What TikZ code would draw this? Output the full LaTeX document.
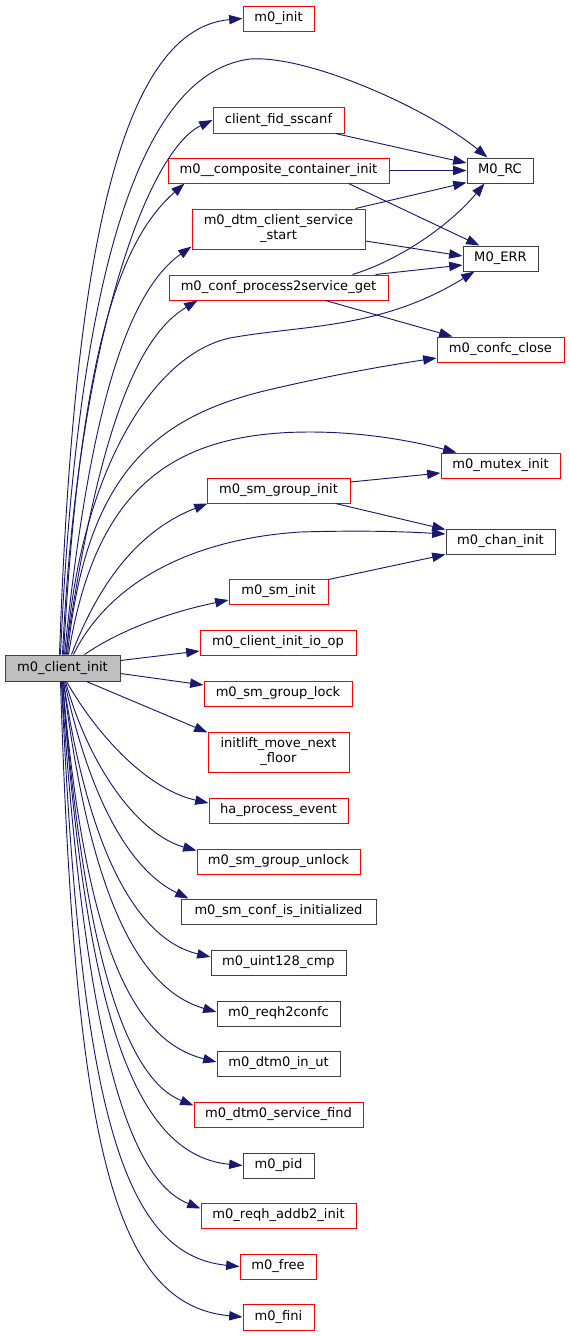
\documentclass[tikz,border=0pt]{standalone}
\usepackage{fontspec}
\setmainfont{DejaVu Sans}
\usetikzlibrary{arrows.meta,calc}
\definecolor{edgec}{HTML}{191970}
\definecolor{rootfill}{HTML}{BFBFBF}
\definecolor{greyb}{HTML}{404040}
\begin{document}
\begin{tikzpicture}[x=0.75pt,y=-0.75pt,
  box/.style={rectangle, inner sep=0pt, line width=0.75pt, font=\fontsize{9.8pt}{11.25pt}\selectfont, align=center, fill=white},
  rbox/.style={box, draw=red},
  kbox/.style={box, draw=greyb},
  wh/.style 2 args={minimum width=#1*0.75pt, minimum height=#2*0.75pt},
  e/.style={draw=edgec, line width=0.7pt, -{Triangle[length=10pt,width=7pt]}, fill=none}
]
\useasboundingbox (0,0) rectangle (569,1336);
% nodes
\node[kbox, fill=rootfill, wh={115}{26}] (ci) at (62.5,668) {m0\_client\_init};
\node[rbox, wh={71}{25}] (m0init) at (278.5,18.5) {m0\_init};
\node[rbox, wh={131}{26}] (fid) at (278.5,120) {client\_fid\_sscanf};
\node[rbox, wh={221}{25}] (comp) at (278.5,170.5) {m0\_\_composite\_container\_init};
\node[kbox, wh={66}{25}] (rc) at (500,170.5) {M0\_RC};
\node[rbox, wh={173}{40}] (dtm) at (278.5,229) {m0\_dtm\_client\_service\\\_start};
\node[kbox, wh={75}{25}] (err) at (500.5,258.5) {M0\_ERR};
\node[rbox, wh={219}{25}] (conf) at (278.5,287.5) {m0\_conf\_process2service\_get};
\node[rbox, wh={127}{25}] (close) at (500.5,349.5) {m0\_confc\_close};
\node[rbox, wh={119}{25}] (mutex) at (500.5,465.5) {m0\_mutex\_init};
\node[rbox, wh={143}{25}] (sgi) at (278.5,490.5) {m0\_sm\_group\_init};
\node[kbox, wh={109}{25}] (chan) at (500.5,541.5) {m0\_chan\_init};
\node[rbox, wh={99}{25}] (sminit) at (278.5,591.5) {m0\_sm\_init};
\node[rbox, wh={156}{25}] (io) at (278,642.5) {m0\_client\_init\_io\_op};
\node[rbox, wh={148}{25}] (lock) at (278,693.5) {m0\_sm\_group\_lock};
\node[rbox, wh={141}{40}] (lift) at (278.5,752) {initlift\_move\_next\\\_floor};
\node[rbox, wh={139}{25}] (ha) at (278.5,810.5) {ha\_process\_event};
\node[rbox, wh={163}{25}] (unlock) at (278.5,861.5) {m0\_sm\_group\_unlock};
\node[kbox, wh={195}{25}] (confinit) at (278.5,911.5) {m0\_sm\_conf\_is\_initialized};
\node[kbox, wh={135}{25}] (u128) at (278.5,962.5) {m0\_uint128\_cmp};
\node[kbox, wh={123}{25}] (r2c) at (278.5,1013.5) {m0\_reqh2confc};
\node[kbox, wh={123}{25}] (inut) at (278.5,1063.5) {m0\_dtm0\_in\_ut};
\node[rbox, wh={169}{25}] (find) at (278.5,1114.5) {m0\_dtm0\_service\_find};
\node[kbox, wh={71}{25}] (pid) at (278.5,1165.5) {m0\_pid};
\node[rbox, wh={155}{25}] (addb2) at (278.5,1215.5) {m0\_reqh\_addb2\_init};
\node[rbox, wh={76}{25}] (free) at (278,1266.5) {m0\_free};
\node[rbox, wh={71}{26}] (fini) at (278.5,1317) {m0\_fini};
% edges from m0_client_init (upwards)
\draw[e] ($(ci.north west)+(55,0)$) .. controls (72,300) and (110,30) .. (m0init.west);
\draw[e] ($(ci.north west)+(56,0)$) .. controls (75,330) and (125,75) .. (250,59) .. controls (310,55) and (430,110) .. ($(rc.north west)+(21,0)$);
\draw[e] ($(ci.north west)+(58,0)$) .. controls (78,330) and (150,150) .. (fid.west);
\draw[e] ($(ci.north west)+(59,0)$) .. controls (80,350) and (120,240) .. ($(comp.south west)+(17,0)$);
\draw[e] ($(ci.north west)+(60,0)$) .. controls (90,400) and (130,290) .. ($(dtm.south west)+(0,-3)$);
\draw[e] ($(ci.north west)+(61,0)$) .. controls (100,420) and (140,335) .. ($(conf.south west)+(29,0)$);
\draw[e] ($(ci.north west)+(62,0)$) .. controls (78,480) and (150,355) .. (230,338) .. controls (300,325) and (380,330) .. ($(err.south west)+(12,0)$);
\draw[e] ($(ci.north west)+(63,0)$) .. controls (85,480) and (150,420) .. (260,392) .. controls (330,375) and (390,365) .. ($(close.west)+(0,8.5)$);
\draw[e] ($(ci.north west)+(64,0)$) .. controls (95,490) and (170,432) .. (310,432) .. controls (370,432) and (420,443) .. ($(mutex.north west)+(16,0)$);
\draw[e] ($(ci.north west)+(67,0)$) .. controls (100,580) and (140,530) .. ($(sgi.south west)+(1,0)$);
\draw[e] ($(ci.north west)+(69,0)$) .. controls (105,590) and (180,540) .. (300,532) .. controls (370,530) and (410,532) .. ($(chan.west)+(0,-7.5)$);
\draw[e] ($(ci.north west)+(80,0)$) .. controls (120,630) and (170,612) .. ($(sminit.west)+(0,8.5)$);
\draw[e] ($(ci.north east)+(0,6)$) -- ($(io.west)+(0,8.5)$);
\draw[e] ($(ci.north east)+(0,19)$) -- ($(lock.west)+(0,-8.5)$);
% edges from m0_client_init (downwards)
\draw[e] ($(ci.south west)+(82,0)$) -- ($(lift.north west)+(0,1)$);
\draw[e] ($(ci.south west)+(62,0)$) .. controls (100,740) and (150,790) .. ($(ha.west)+(0,-7.5)$);
\draw[e] ($(ci.south west)+(61,0)$) .. controls (90,770) and (140,835) .. ($(unlock.north west)+(0,2)$);
\draw[e] ($(ci.south west)+(60,0)$) .. controls (90,800) and (130,870) .. ($(confinit.north west)+(8,0)$);
\draw[e] ($(ci.south west)+(59,0)$) .. controls (90,860) and (140,940) .. ($(u128.west)+(0,-5.5)$);
\draw[e] ($(ci.south west)+(59,0)$) .. controls (90,900) and (140,990) .. ($(r2c.west)+(0,-1.5)$);
\draw[e] ($(ci.south west)+(58,0)$) .. controls (85,940) and (130,1040) .. ($(inut.west)+(0,-1.5)$);
\draw[e] ($(ci.south west)+(58,0)$) .. controls (85,970) and (130,1080) .. ($(find.north west)+(0,4)$);
\draw[e] ($(ci.south west)+(58,0)$) .. controls (85,1000) and (130,1155) .. (pid.west);
\draw[e] ($(ci.south west)+(57,0)$) .. controls (85,1050) and (130,1180) .. ($(addb2.north west)+(0,6)$);
\draw[e] ($(ci.south west)+(57,0)$) .. controls (80,1100) and (120,1255) .. (free.west);
\draw[e] ($(ci.south west)+(56,0)$) .. controls (75,1150) and (115,1305) .. (fini.west);
% cross edges
\draw[e] ($(fid.south east)+(-9,0)$) -- ($(rc.west)+(0,-7.5)$);
\draw[e] (comp.east) -- (rc.west);
\draw[e] ($(comp.south east)+(-41,0)$) -- ($(err.north west)+(17,0)$);
\draw[e] ($(dtm.north east)+(-10,0)$) -- ($(rc.south west)+(0,-1)$);
\draw[e] ($(dtm.east)+(0,12)$) -- ($(err.west)+(0,-2.5)$);
\draw[e] ($(conf.north east)+(-36,0)$) .. controls (400,260) and (450,225) .. ($(rc.south west)+(18,0)$);
\draw[e] ($(conf.north east)+(-13,0)$) -- ($(err.west)+(0,6.5)$);
\draw[e] ($(conf.south east)+(-63,0)$) -- ($(close.north west)+(16,0)$);
\draw[e] ($(sgi.east)+(0,-8.5)$) -- ($(mutex.west)+(0,7.5)$);
\draw[e] ($(sgi.south east)+(-15,0)$) -- ($(chan.north west)+(0,1)$);
\draw[e] ($(sminit.north east)+(0,1)$) -- (chan.south west);
\end{tikzpicture}
\end{document}
